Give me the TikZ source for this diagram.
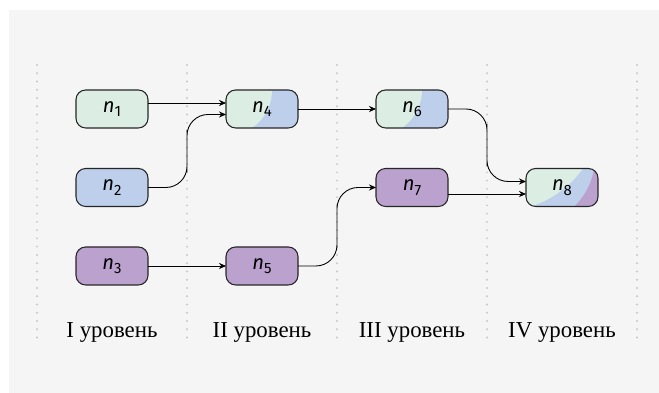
\documentclass[tikz,border=0pt]{standalone}
\usepackage{fontspec}
\setmainfont{Liberation Serif}
\newfontfamily\nodefont{Fira Sans}
\usepackage{tikz}
\usetikzlibrary{arrows.meta,calc,positioning,backgrounds}
\definecolor{bggray}{HTML}{F5F5F5}
\definecolor{lvlgreen}{HTML}{DCEDE4}
\definecolor{lvlblue}{HTML}{BECFEB}
\definecolor{lvlpurple}{HTML}{BBA1CD}
\definecolor{dotgray}{HTML}{C8C8C8}
\newcommand{\nlab}[1]{{\nodefont\itshape n}\raisebox{-0.5ex}{\nodefont\fontsize{8.5}{9}\selectfont #1}}

\begin{document}
\begin{tikzpicture}[
    box/.style={draw=black!85,line width=0.6pt,rounded corners=5.5pt,minimum width=1.44cm,minimum height=0.76cm,inner sep=0pt,outer sep=0pt,font=\fontsize{11.5}{13}\selectfont},
    gbox/.style={box,fill=lvlgreen},
    bbox/.style={box,fill=lvlblue},
    pbox/.style={box,fill=lvlpurple},
    edge/.style={-{Stealth[length=4pt,width=3.5pt]},line width=0.5pt},
    bendedge/.style={edge,rounded corners=12pt},
    lvlline/.style={dotgray,line width=1.2pt,line cap=round,dash pattern=on 0pt off 4.7pt},
    lvltext/.style={anchor=base,font=\fontsize{13}{15}\selectfont}
  ]
  % background
  \useasboundingbox (0,0) rectangle (13.18,7.86);
  \begin{scope}[on background layer]
    \fill[bggray] (0.18,0) rectangle (13.18,7.66);
  \end{scope}

  % level separators
  \foreach \x in {0.74,3.74,6.74,9.74,12.74}
    \draw[lvlline] (\x,6.56) -- (\x,1.06);

  % level names
  \node[lvltext] (lvl1) at (2.24,1.1) {I уровень};
  \node[lvltext] (lvl2) at (5.24,1.1) {II уровень};
  \node[lvltext] (lvl3) at (8.24,1.1) {III уровень};
  \node[lvltext] (lvl4) at (11.24,1.1) {IV уровень};

  % nodes
  \node[gbox] (n1) at (2.24,5.68) {\nlab{1}};
  \node[bbox] (n2) at (2.24,4.11) {\nlab{2}};
  \node[pbox] (n3) at (2.24,2.54) {\nlab{3}};
  \node[box] (n4) at (5.24,5.68) {\nlab{4}};
  \node[pbox] (n5) at (5.24,2.54) {\nlab{5}};
  \node[box] (n6) at (8.24,5.68) {\nlab{6}};
  \node[pbox] (n7) at (8.24,4.11) {\nlab{7}};
  \node[box] (n8) at (11.24,4.11) {\nlab{8}};

  % mixed fills
  \begin{scope}[on background layer]
    \foreach \m in {n4,n6} {
      \begin{scope}
        \clip[rounded corners=5.5pt] (\m.south west) rectangle (\m.north east);
        \fill[lvlblue] (\m.south west) rectangle (\m.north east);
        \fill[lvlgreen] (\m.north west) circle (0.92);
      \end{scope}
    }
    \begin{scope}
      \clip[rounded corners=5.5pt] (n8.south west) rectangle (n8.north east);
      \fill[lvlpurple] (n8.south west) rectangle (n8.north east);
      \fill[lvlblue] ($(n8.north west)+(0,0.23)$) circle (1.38);
      \fill[lvlgreen] ($(n8.north west)+(-0.54,1.21)$) circle (2.07);
    \end{scope}
  \end{scope}

  % ports
  \coordinate (n4a) at ($(n4.west)+(0,0.12)$);
  \coordinate (n4b) at ($(n4.west)+(0,-0.11)$);
  \coordinate (n8a) at ($(n8.west)+(0,0.12)$);
  \coordinate (n8b) at ($(n8.west)+(0,-0.13)$);

  % edges
  \draw[edge] (n1.east |- n4a) -- (n4a);
  \draw[bendedge] (n2.east) -| ($(n2.east)!0.5!(n4b)$) |- (n4b);
  \draw[edge] (n3) -- (n5);
  \draw[edge] (n4) -- (n6);
  \draw[bendedge] (n5.east) -| ($(n5.east)!0.5!(n7.west)$) |- (n7.west);
  \draw[bendedge] (n6.east) -| ($(n6.east)!0.5!(n8a)$) |- (n8a);
  \draw[edge] (n7.east |- n8b) -- (n8b);
\end{tikzpicture}
\end{document}
